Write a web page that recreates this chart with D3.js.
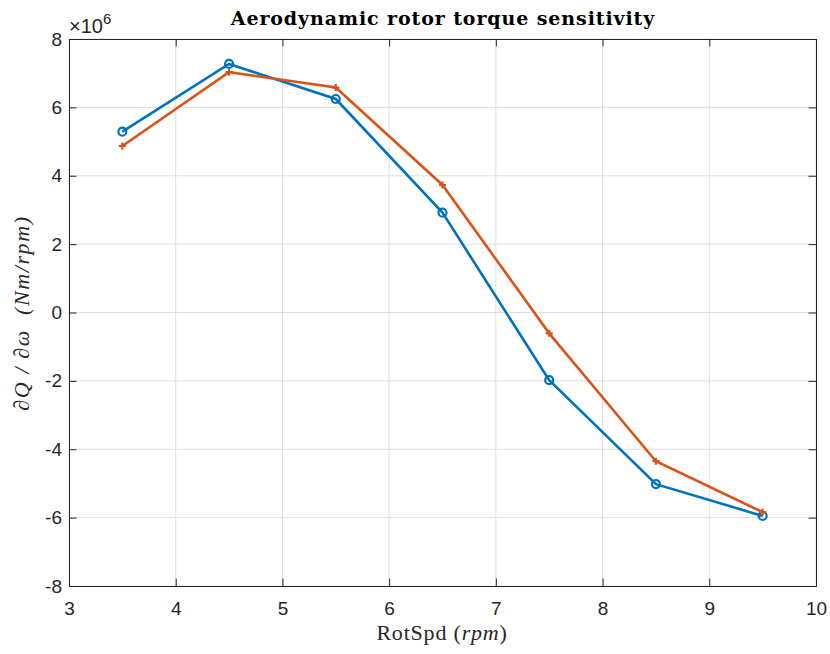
<!DOCTYPE html>
<html><head><meta charset="utf-8">
<script src="https://cdn.jsdelivr.net/npm/d3@7"></script>
<style>body{margin:0;background:#fff}</style>
</head><body>
<svg id="c" width="830" height="654"></svg>
<script>
const rotSpd = [3.5, 4.5, 5.5, 6.5, 7.5, 8.5, 9.5];
const seriesA = [5.29, 7.27, 6.245, 2.92, -1.98, -5.02, -5.95]; // x1e6, circles
const seriesB = [4.87, 7.03, 6.58, 3.73, -0.61, -4.35, -5.84]; // x1e6, plus
const xTicks = [3, 4, 5, 6, 7, 8, 9, 10];
const yTicks = [-8, -6, -4, -2, 0, 2, 4, 6, 8];

const svg = d3.select('#c');
const L = 69, R = 816, T = 39, B = 586;
const x = d3.scaleLinear().domain([3, 10]).range([L, R]);
const y = d3.scaleLinear().domain([-8, 8]).range([B, T]);
const axCol = '#262626';
const tickFont = 'Liberation Sans, Arial, sans-serif';
const fmt = d => String(d);

// grid
const g = svg.append('g');
xTicks.forEach(t => g.append('line').attr('x1', x(t)).attr('x2', x(t)).attr('y1', T).attr('y2', B)
  .attr('stroke', '#dfdfdf').attr('stroke-width', 1));
yTicks.forEach(t => g.append('line').attr('y1', y(t)).attr('y2', y(t)).attr('x1', L).attr('x2', R)
  .attr('stroke', '#dfdfdf').attr('stroke-width', 1));

// axes
const tl = 7.5;
const xb = svg.append('g').attr('transform', `translate(0,${B})`)
  .call(d3.axisBottom(x).tickValues(xTicks).tickSize(-tl).tickPadding(16).tickFormat(fmt));
const xt = svg.append('g').attr('transform', `translate(0,${T})`)
  .call(d3.axisTop(x).tickValues(xTicks).tickSize(-tl).tickFormat(''));
const yl = svg.append('g').attr('transform', `translate(${L},0)`)
  .call(d3.axisLeft(y).tickValues(yTicks).tickSize(-tl).tickPadding(7).tickFormat(fmt));
const yr = svg.append('g').attr('transform', `translate(${R},0)`)
  .call(d3.axisRight(y).tickValues(yTicks).tickSize(-tl).tickFormat(''));
[xb, xt, yl, yr].forEach(a => {
  a.selectAll('path').attr('stroke', axCol).attr('stroke-width', 1);
  a.selectAll('line').attr('stroke', axCol).attr('stroke-width', 1);
  a.selectAll('text').attr('fill', axCol).style('font-family', tickFont).style('font-size', '19px');
});
xb.selectAll('text').attr('dy', '0.71em');

// exponent label
const ex = svg.append('text').attr('x', 69).attr('y', 33).attr('fill', axCol)
  .style('font-family', tickFont).style('font-size', '20px');
ex.append('tspan').text('×10');
ex.append('tspan').attr('dy', -9).style('font-size', '15px').text('6');

// lines
const colA = '#0072BD', colB = '#D95319';
const line = d3.line().x((d, i) => x(rotSpd[i])).y(d => y(d));
svg.append('path').datum(seriesA).attr('d', line).attr('fill', 'none').attr('stroke', colA).attr('stroke-width', 2.6);
svg.append('path').datum(seriesB).attr('d', line).attr('fill', 'none').attr('stroke', colB).attr('stroke-width', 2.6);
svg.selectAll('.mA').data(seriesA).enter().append('circle')
  .attr('cx', (d, i) => x(rotSpd[i])).attr('cy', d => y(d)).attr('r', 4)
  .attr('fill', 'none').attr('stroke', colA).attr('stroke-width', 2.2);
const pl = 3.5;
svg.selectAll('.mB').data(seriesB).enter().append('path')
  .attr('d', (d, i) => { const cx = x(rotSpd[i]), cy = y(d);
    return `M${cx - pl},${cy}H${cx + pl}M${cx},${cy - pl}V${cy + pl}`; })
  .attr('stroke', colB).attr('stroke-width', 2.2);

// title
svg.append('text').attr('x', 443).attr('y', 25).attr('text-anchor', 'middle')
  .style('font-family', 'DejaVu Serif, serif').style('font-weight', 'bold').style('font-size', '19px')
  .style('letter-spacing', '0.9px')
  .attr('fill', '#000').text('Aerodynamic rotor torque sensitivity');

// x label
const xlab = svg.append('text').attr('x', 442).attr('y', 640).attr('text-anchor', 'middle')
  .style('font-family', 'Liberation Serif, serif').style('font-size', '22px').style('letter-spacing', '0.8px')
  .attr('fill', axCol);
xlab.append('tspan').text('RotSpd (');
xlab.append('tspan').style('font-style', 'italic').text('rpm');
xlab.append('tspan').text(')');

// y label
const ylab = svg.append('text').attr('transform', `translate(29,313) rotate(-90)`)
  .attr('text-anchor', 'middle')
  .style('font-family', 'Liberation Serif, serif').style('font-size', '22px').style('font-style', 'italic')
  .style('letter-spacing', '1.6px').style('white-space', 'pre').attr('fill', axCol);
ylab.append('tspan').text('∂Q / ∂ω  (Nm/rpm)');
</script>
</body></html>
